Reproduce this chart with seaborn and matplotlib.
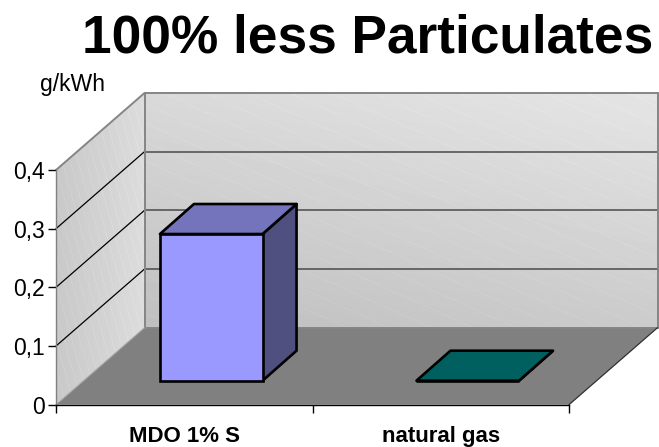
import numpy as np
import pandas as pd
import matplotlib
matplotlib.use("Agg")
import matplotlib.pyplot as plt
from matplotlib.patches import Polygon
from matplotlib.transforms import Affine2D, IdentityTransform
import seaborn as sns

categories = ["MDO 1% S", "natural gas"]
values = [0.25, 0.0]
front_colors = ["#9999FF", "#006666"]
top_colors = ["#7474BC", "#006060"]
side_colors = ["#4F4F80", "#004040"]
y_ticks = [0, 0.1, 0.2, 0.3, 0.4]
y_labels = ["0", "0,1", "0,2", "0,3", "0,4"]
title = "100% less Particulates"
unit = "g/kWh"

W, H = 659, 447
L, R, B, T = 56, 569, 404.7, 170  # front plane, pixels from top-left
DX, DY = 88.5, 77  # full depth
BAR_DX, BAR_DY = 34, 30
GAP_DX, GAP_DY = 27, 24

sns.set_theme(style="white")
plt.rcParams["font.family"] = ["Liberation Sans", "DejaVu Sans"]

fig = plt.figure(figsize=(W / 100, H / 100), dpi=100, facecolor="white")

# Oblique back panels
bg = fig.add_axes([0, 0, 1, 1], zorder=0)
bg.set_xlim(0, W)
bg.set_ylim(H, 0)
bg.axis("off")

back = [(L + DX, B - DY), (R + DX, B - DY), (R + DX, T - DY), (L + DX, T - DY)]
side = [(L, B), (L + DX, B - DY), (L + DX, T - DY), (L, T)]
floor = [(L, B), (R, B), (R + DX, B - DY), (L + DX, B - DY)]


def shaded(poly, func):
    xs = [p[0] for p in poly]
    ys = [p[1] for p in poly]
    x0, x1, y0, y1 = min(xs), max(xs), min(ys), max(ys)
    xx, yy = np.meshgrid(np.arange(x0, x1), np.arange(y0, y1))
    v = func((xx - x0) / (x1 - x0), (yy - y0) / (y1 - y0), xx, yy)
    im = bg.imshow(v, extent=(x0, x1, y1, y0), cmap="gray", vmin=0, vmax=255,
                   aspect="auto", interpolation="bilinear", zorder=1)
    im.set_clip_path(Polygon(poly, transform=bg.transData))


def back_fill(xf, yf, xx, yy):
    v = 0xBF + 0x1A * (1 - yf) + 0x0C * xf
    stripe = np.mod(yy - 0.45 * xx, 19.0) < 1.0
    return v + 4 * stripe


def side_fill(xf, yf, xx, yy):
    v = 0xC8 + 0x14 * xf
    stripe = np.mod(xx - 0.28 * yy, 8.0) < 1.0
    return v + 5 * stripe


shaded(back, back_fill)
shaded(side, side_fill)
bg.set_xlim(0, W)
bg.set_ylim(H, 0)
bg.add_patch(Polygon(floor, facecolor="#808080", edgecolor="none", zorder=2))

# Front plane axes carrying the scales
ax = fig.add_axes([L / W, 1 - B / H, (R - L) / W, (B - T) / H], zorder=1)
ax.patch.set_alpha(0)
df = pd.DataFrame({"category": categories, "value": values})
sns.barplot(data=df, x="category", y="value", hue="category", palette=front_colors,
            width=0.4, saturation=1, legend=False, ax=ax, zorder=5)
ax.set_xlim(-0.5, 1.5)
ax.set_ylim(0, 0.4)
ax.set_xlabel("")
ax.set_ylabel("")
for s in ["top", "right"]:
    ax.spines[s].set_visible(False)
for s in ["left", "bottom"]:
    ax.spines[s].set_color("black")
    ax.spines[s].set_linewidth(1.0)
ax.spines["left"].set_color("#808080")

ax.set_yticks(y_ticks, y_labels)
ax.tick_params(axis="y", left=True, length=6, width=1, color="black", pad=2,
               labelsize=16.5, labelcolor="black")
ax.set_xticks([-0.5, 0.5, 1.5], ["", "", ""])
ax.set_xticks([0, 1], categories, minor=True)
ax.tick_params(axis="x", which="major", bottom=True, length=6, width=1, color="black")
ax.tick_params(axis="x", which="minor", bottom=False, length=0, pad=15, labelsize=16,
               labelcolor="black")
for lab in ax.get_xticklabels(minor=True):
    lab.set_fontweight("bold")

# Gridlines, drawn from the value scale along side wall and back wall
for v in y_ticks[1:]:
    yp = B - (B - T) * v / y_ticks[-1]
    if v < y_ticks[-1]:
        bg.plot([L, L + DX], [yp, yp - DY], color="black", lw=0.9, zorder=3)
        bg.plot([L + DX, R + DX], [yp - DY, yp - DY], color="#4A4A4A", lw=1.1, zorder=3)
for a, b in [((L + DX, B - DY), (L + DX, T - DY)), ((L + DX, T - DY), (R + DX, T - DY)),
             ((R + DX, T - DY), (R + DX, B - DY)), ((L + DX, B - DY), (R + DX, B - DY)),
             ((L, T), (L + DX, T - DY))]:
    bg.plot([a[0], b[0]], [a[1], b[1]], color="#858585", lw=1.4, zorder=3)
bg.plot([L, L + DX], [B, B - DY], color="#A8A8A8", lw=0.8, zorder=3)
bg.plot([R, R + DX], [B, B - DY], color="#303030", lw=0.9, zorder=3)

# Shift bars back into the floor and extrude them
shift = Affine2D().translate(GAP_DX, GAP_DY)
for patch, top_c, side_c in zip(list(ax.patches), top_colors, side_colors):
    x0, w, h = patch.get_x(), patch.get_width(), patch.get_height()
    (px0, py0), (px1, py1) = ax.transData.transform([(x0, 0), (x0 + w, h)])
    px0 += GAP_DX; px1 += GAP_DX; py0 += GAP_DY; py1 += GAP_DY
    faces = [
        ([(px1, py0), (px1 + BAR_DX, py0 + BAR_DY), (px1 + BAR_DX, py1 + BAR_DY), (px1, py1)], side_c),
        ([(px0, py1), (px1, py1), (px1 + BAR_DX, py1 + BAR_DY), (px0 + BAR_DX, py1 + BAR_DY)], top_c),
    ]
    for pts, c in faces:
        ax.add_patch(Polygon(pts, closed=True, facecolor=c, edgecolor="black", lw=1.9,
                             joinstyle="round", transform=IdentityTransform(), clip_on=False, zorder=4))
    patch.set_transform(ax.transData + shift)
    patch.set_clip_on(False)
    patch.set_edgecolor("black")
    patch.set_linewidth(1.9)
    patch.set_zorder(5)

fig.text(368 / W, 1 - 38.5 / H, title, ha="center", va="center", fontsize=38.3,
         fontweight="bold", color="black")
fig.text(72.5 / W, 1 - 84 / H, unit, ha="center", va="center", fontsize=16.6, color="black")

fig.savefig("out.png", dpi=100, facecolor="white")
